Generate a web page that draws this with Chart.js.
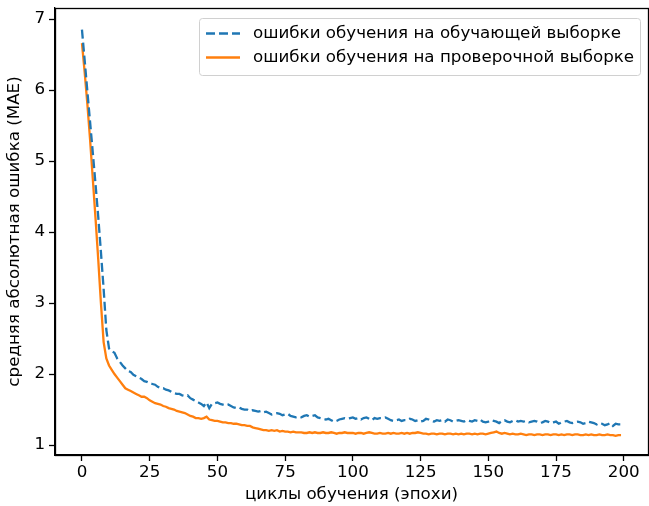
<!DOCTYPE html>
<html>
<head>
<meta charset="utf-8">
<script src="https://cdn.jsdelivr.net/npm/chart.js@4.4.1/dist/chart.umd.min.js"></script>
<style>
  html, body { margin: 0; padding: 0; background: #fff; }
  canvas { display: block; }
</style>
</head>
<body>
<canvas id="chart" width="649" height="506"></canvas>
<script>
// MAE per epoch
const trainMae = [
  6.85, 6.42, 5.98, 5.55, 5.12, 4.68, 4.22, 3.72, 3.20, 2.62,
  2.36, 2.32, 2.30, 2.22, 2.17, 2.12, 2.08, 2.04, 2.03, 1.99,
  1.97, 1.95, 1.93, 1.90, 1.89, 1.87, 1.86, 1.85, 1.82, 1.80,
  1.80, 1.78, 1.77, 1.75, 1.73, 1.72, 1.72, 1.70, 1.69, 1.70,
  1.66, 1.64, 1.62, 1.60, 1.58, 1.55, 1.60, 1.52, 1.58, 1.59,
  1.60, 1.58, 1.57, 1.56, 1.57, 1.55, 1.53, 1.52, 1.53, 1.51,
  1.50, 1.50, 1.48, 1.49, 1.48, 1.47, 1.48, 1.46, 1.47, 1.45,
  1.43, 1.44, 1.45, 1.44, 1.42, 1.43, 1.44, 1.41, 1.40, 1.39,
  1.40, 1.39, 1.41, 1.42, 1.40, 1.41, 1.42, 1.39, 1.38, 1.37,
  1.36, 1.37, 1.35, 1.33, 1.34, 1.36, 1.37, 1.38, 1.37, 1.38,
  1.39, 1.37, 1.38, 1.36, 1.38, 1.39, 1.37, 1.35, 1.38, 1.37,
  1.38, 1.38, 1.39, 1.37, 1.35, 1.34, 1.35, 1.36, 1.34, 1.35,
  1.35, 1.37, 1.36, 1.34, 1.35, 1.33, 1.34, 1.37, 1.36, 1.34,
  1.33, 1.35, 1.34, 1.35, 1.33, 1.36, 1.35, 1.33, 1.34, 1.35,
  1.34, 1.33, 1.35, 1.34, 1.33, 1.35, 1.34, 1.36, 1.33, 1.32,
  1.33, 1.35, 1.34, 1.33, 1.31, 1.34, 1.35, 1.33, 1.32, 1.34,
  1.35, 1.33, 1.34, 1.33, 1.34, 1.32, 1.33, 1.34, 1.33, 1.31,
  1.32, 1.34, 1.33, 1.31, 1.32, 1.33, 1.30, 1.32, 1.33, 1.34,
  1.32, 1.31, 1.32, 1.33, 1.32, 1.30, 1.31, 1.33, 1.32, 1.31,
  1.29, 1.31, 1.30, 1.28, 1.29, 1.31, 1.27, 1.30, 1.29, 1.29
];
const valMae = [
  6.66, 6.25, 5.80, 5.30, 4.75, 4.20, 3.62, 3.00, 2.45, 2.22,
  2.12, 2.06, 2.00, 1.95, 1.90, 1.85, 1.80, 1.78, 1.76, 1.74,
  1.72, 1.70, 1.68, 1.68, 1.66, 1.63, 1.61, 1.59, 1.58, 1.57,
  1.55, 1.54, 1.52, 1.51, 1.50, 1.48, 1.47, 1.46, 1.45, 1.43,
  1.41, 1.40, 1.38, 1.38, 1.37, 1.38, 1.40, 1.36, 1.35, 1.34,
  1.34, 1.33, 1.32, 1.32, 1.31, 1.31, 1.30, 1.30, 1.29, 1.28,
  1.28, 1.27, 1.27, 1.25, 1.24, 1.23, 1.22, 1.21, 1.21, 1.20,
  1.21, 1.20, 1.21, 1.19, 1.20, 1.19, 1.19, 1.18, 1.19, 1.18,
  1.18, 1.18, 1.17, 1.17, 1.18, 1.17, 1.18, 1.17, 1.17, 1.18,
  1.17, 1.17, 1.18, 1.17, 1.16, 1.17, 1.17, 1.18, 1.17, 1.17,
  1.17, 1.16, 1.17, 1.17, 1.16, 1.17, 1.18, 1.17, 1.16, 1.16,
  1.17, 1.16, 1.16, 1.17, 1.16, 1.17, 1.16, 1.16, 1.17, 1.16,
  1.17, 1.16, 1.17, 1.17, 1.18, 1.17, 1.16, 1.16, 1.15, 1.16,
  1.16, 1.15, 1.16, 1.16, 1.15, 1.16, 1.16, 1.15, 1.16, 1.15,
  1.16, 1.15, 1.16, 1.16, 1.15, 1.16, 1.15, 1.16, 1.16, 1.15,
  1.16, 1.17, 1.18, 1.19, 1.17, 1.16, 1.17, 1.16, 1.15, 1.16,
  1.15, 1.15, 1.16, 1.15, 1.14, 1.15, 1.15, 1.14, 1.15, 1.15,
  1.14, 1.15, 1.15, 1.14, 1.15, 1.15, 1.14, 1.15, 1.14, 1.15,
  1.15, 1.14, 1.15, 1.15, 1.14, 1.14, 1.15, 1.14, 1.15, 1.14,
  1.14, 1.15, 1.14, 1.14, 1.15, 1.14, 1.14, 1.13, 1.14, 1.14
];
const xTicks = [0, 25, 50, 75, 100, 125, 150, 175, 200];
const yTicks = [1, 2, 3, 4, 5, 6, 7];
const seriesLabels = [
  "ошибки обучения на обучающей выборке",
  "ошибки обучения на проверочной выборке"
];
const xTitle = "циклы обучения (эпохи)";
const yTitle = "средняя абсолютная ошибка (MAE)";

const FONT = "'DejaVu Sans', sans-serif";
const FS = 16.7;
const epochs = trainMae.map((_, i) => i);

// matplotlib style full box around the axes
const boxPlugin = {
  id: "box",
  afterDatasetsDraw(chart) {
    const { ctx, chartArea: a } = chart;
    ctx.save();
    ctx.strokeStyle = "#000";
    ctx.lineWidth = 1.3;
    ctx.strokeRect(Math.round(a.left) + 0.5, Math.round(a.top) + 0.5,
      Math.round(a.right - a.left), Math.round(a.bottom - a.top));
    ctx.restore();
  }
};

// legend in the upper right corner, inside the axes
const legendPlugin = {
  id: "innerLegend",
  afterDraw(chart) {
    const { ctx } = chart;
    const ds = chart.data.datasets;
    const right = 640, top = 18;
    const w = 441, h = 57, left = right - w;
    ctx.save();
    ctx.fillStyle = "rgba(255,255,255,0.8)";
    ctx.strokeStyle = "#d0d0d0";
    ctx.lineWidth = 1;
    ctx.beginPath();
    ctx.roundRect(left + 0.5, top + 0.5, w, h, 3);
    ctx.fill();
    ctx.stroke();
    ctx.font = FS + "px " + FONT;
    ctx.textBaseline = "middle";
    ds.forEach((d, i) => {
      const y = top + 15.5 + i * 24;
      ctx.strokeStyle = d.borderColor;
      ctx.lineWidth = d.borderWidth;
      ctx.setLineDash(d.borderDash || []);
      ctx.beginPath();
      ctx.moveTo(left + 7, y);
      ctx.lineTo(left + 41, y);
      ctx.stroke();
      ctx.setLineDash([]);
      ctx.fillStyle = "#000";
      ctx.fillText(d.label, left + 54, y);
    });
    ctx.restore();
  }
};

new Chart(document.getElementById("chart"), {
  type: "line",
  data: {
    datasets: [
      {
        label: seriesLabels[0],
        data: epochs.map((e, i) => ({ x: e, y: trainMae[i] })),
        borderColor: "#1f77b4",
        borderWidth: 2.3,
        borderDash: [9, 4],
        pointRadius: 0,
        tension: 0
      },
      {
        label: seriesLabels[1],
        data: epochs.map((e, i) => ({ x: e, y: valMae[i] })),
        borderColor: "#ff7f0e",
        borderWidth: 2.3,
        pointRadius: 0,
        tension: 0
      }
    ]
  },
  options: {
    responsive: false,
    animation: false,
    layout: { padding: { left: 0, right: 1, top: 8, bottom: 0 } },
    plugins: {
      legend: { display: false },
      tooltip: { enabled: false }
    },
    scales: {
      x: {
        type: "linear",
        min: -9.95,
        max: 208.95,
        afterBuildTicks: (s) => { s.ticks = xTicks.map(v => ({ value: v })); },
        afterFit: (s) => { s.height = 51; s.paddingLeft = 0; s.paddingRight = 0; },
        grid: { drawOnChartArea: false, color: "#000", tickLength: 6, tickWidth: 1.3 },
        border: { color: "#000", width: 1.3 },
        ticks: { color: "#000", padding: 3, maxRotation: 0, font: { family: FONT, size: FS, lineHeight: 1 } },
        title: { display: true, text: xTitle, color: "#000", padding: { top: 0, bottom: 1 }, font: { family: FONT, size: FS } }
      },
      y: {
        type: "linear",
        min: 0.86,
        max: 7.155,
        afterBuildTicks: (s) => { s.ticks = yTicks.map(v => ({ value: v })); },
        afterFit: (s) => { s.width = 55; s.paddingTop = 0; s.paddingBottom = 0; },
        grid: { drawOnChartArea: false, color: "#000", tickLength: 6, tickWidth: 1.3 },
        border: { color: "#000", width: 1.3 },
        ticks: { color: "#000", padding: 4, font: { family: FONT, size: FS } },
        title: { display: true, text: yTitle, color: "#000", padding: { top: 5, bottom: 0 }, font: { family: FONT, size: FS } }
      }
    }
  },
  plugins: [boxPlugin, legendPlugin]
});
</script>
</body>
</html>
